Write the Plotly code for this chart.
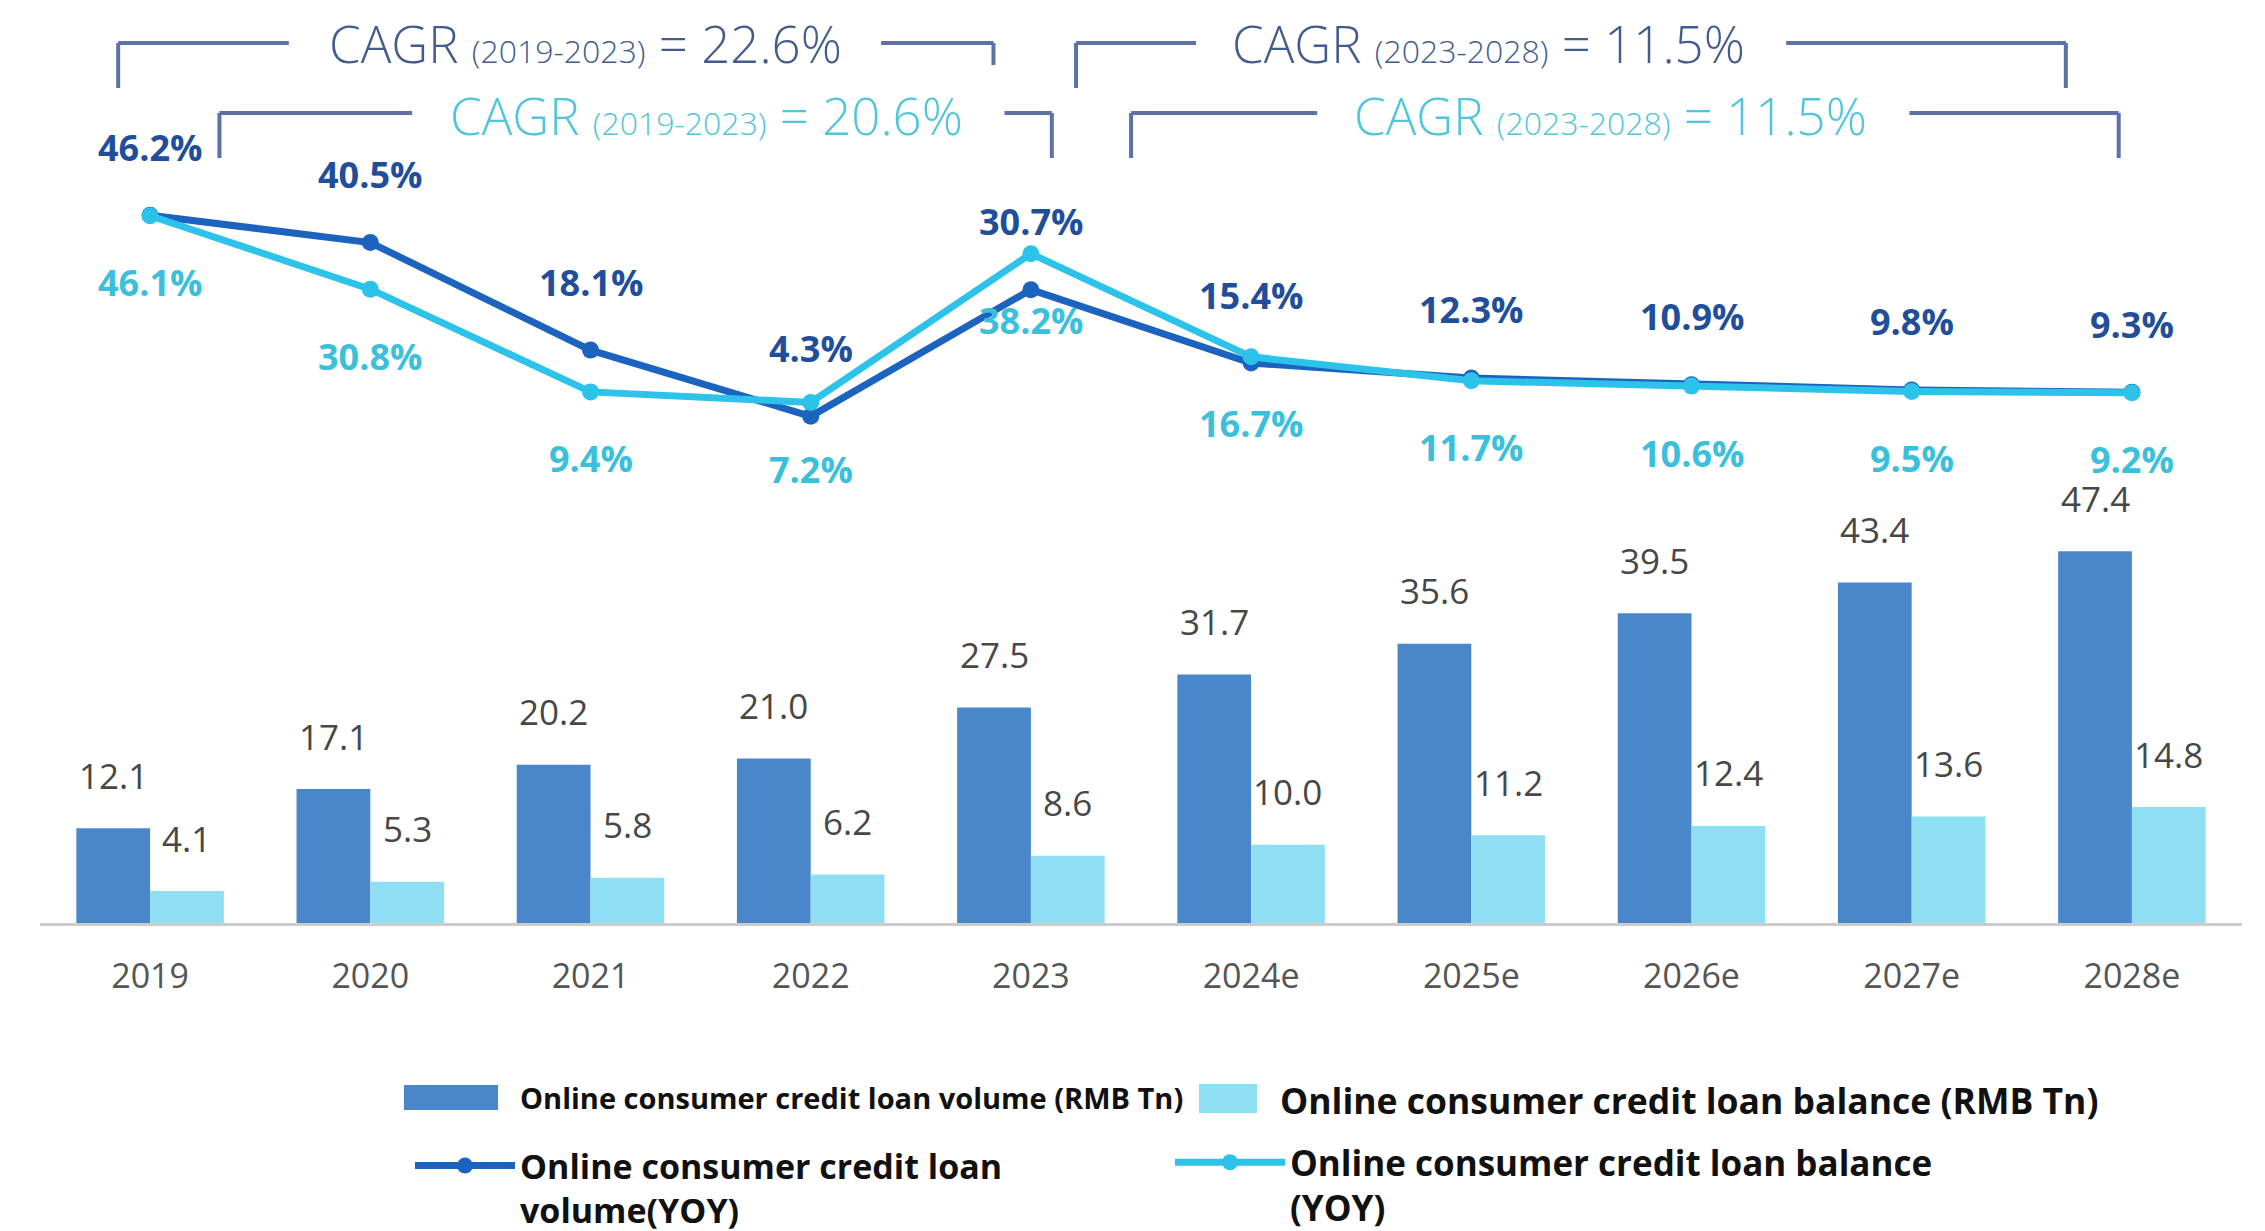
import plotly.graph_objects as go

# ---- data -------------------------------------------------------------
years = ["2019", "2020", "2021", "2022", "2023",
         "2024e", "2025e", "2026e", "2027e", "2028e"]
volume = [12.1, 17.1, 20.2, 21.0, 27.5, 31.7, 35.6, 39.5, 43.4, 47.4]
balance = [4.1, 5.3, 5.8, 6.2, 8.6, 10.0, 11.2, 12.4, 13.6, 14.8]
volume_yoy = [46.2, 40.5, 18.1, 4.3, 30.7, 15.4, 12.3, 10.9, 9.8, 9.3]
balance_yoy = [46.1, 30.8, 9.4, 7.2, 38.2, 16.7, 11.7, 10.6, 9.5, 9.2]

cagr_periods = ["(2019-2023)", "(2019-2023)", "(2023-2028)", "(2023-2028)"]
cagr_values = [22.6, 20.6, 11.5, 11.5]

names = [
    "Online consumer credit loan volume (RMB Tn)",
    "Online consumer credit loan balance (RMB Tn)",
    "Online consumer credit loan<br>volume(YOY)",
    "Online consumer credit loan balance<br>(YOY)",
]

# ---- styling ----------------------------------------------------------
W, H = 2265, 1231
DARK_BAR = "#4a87ca"
LIGHT_BAR = "#8fdff4"
DARK_LINE = "#1b63bf"
LIGHT_LINE = "#2cc2ea"
DARK_LABEL = "#1f4e9a"
LIGHT_LABEL = "#3bc0dc"
CAGR_DARK = "#445c8d"
CAGR_LIGHT = "#4fc6da"
BRACKET = "#5e71a7"
TEXT_GRAY = "#474747"
FONT = "Open Sans"

X_DOMAIN = [40 / W, 2242 / W]
BAR_HALF = 36.8          # offset of each bar's centre from the category centre (px)
idx = list(range(len(years)))   # category positions on the x axis


def py(px):
    """Pixel offset from the top of the figure -> paper y."""
    return 1 - px / H


fig = go.Figure()

fig.add_bar(x=years, y=volume, marker=dict(color=DARK_BAR, line=dict(width=0)),
            name=names[0], legend="legend")
fig.add_bar(x=years, y=balance, marker=dict(color=LIGHT_BAR, line=dict(width=0)),
            name=names[1], legend="legend2")

fig.add_scatter(x=years, y=volume_yoy, yaxis="y2", mode="lines+markers",
                line=dict(color=DARK_LINE, width=7),
                marker=dict(size=17, color=DARK_LINE),
                name=names[2], legend="legend3")
fig.add_scatter(x=years, y=balance_yoy, yaxis="y2", mode="lines+markers",
                line=dict(color=LIGHT_LINE, width=7),
                marker=dict(size=17, color=LIGHT_LINE),
                name=names[3], legend="legend4")

annotations = []

# value labels above the bars
for i, v in zip(idx, volume):
    annotations.append(dict(x=i, y=v, xref="x", yref="y", text=f"{v:.1f}",
                            showarrow=False, xshift=-BAR_HALF, yshift=53,
                            font=dict(family=FONT, size=35, color=TEXT_GRAY)))
for i, v in zip(idx, balance):
    annotations.append(dict(x=i, y=v, xref="x", yref="y", text=f"{v:.1f}",
                            showarrow=False, xshift=BAR_HALF, yshift=53,
                            font=dict(family=FONT, size=35, color=TEXT_GRAY)))

# growth-rate labels: volume above its point, balance below its point
for i, v in zip(idx, volume_yoy):
    annotations.append(dict(x=i, y=v, xref="x", yref="y2", text=f"<b>{v:.1f}%</b>",
                            showarrow=False, yshift=68,
                            font=dict(family=FONT, size=36, color=DARK_LABEL)))
for i, v in zip(idx, balance_yoy):
    annotations.append(dict(x=i, y=v, xref="x", yref="y2", text=f"<b>{v:.1f}%</b>",
                            showarrow=False, yshift=-67,
                            font=dict(family=FONT, size=36, color=LIGHT_LABEL)))

# CAGR captions (x in category units, y in paper units)
cagr_pos = [(1.975, py(43)), (2.526, py(115)), (6.08, py(43)), (6.634, py(115))]
cagr_colors = [CAGR_DARK, CAGR_LIGHT, CAGR_DARK, CAGR_LIGHT]
for (cx, cy), per, val, col in zip(cagr_pos, cagr_periods, cagr_values, cagr_colors):
    annotations.append(dict(
        x=cx, y=cy, xref="x", yref="paper", xanchor="center", yanchor="middle",
        showarrow=False,
        text=f"CAGR <span style='font-size:32px'>{per}</span> = {val:.1f}%",
        font=dict(family=FONT, size=51, color=col, weight=300)))

# brackets framing the CAGR captions
brackets = [
    # x_left, gap_left, gap_right, x_right, y_line, y_left_end, y_right_end
    (-0.145, 0.63, 3.32, 3.83, 43, 88, 65),
    (0.315, 1.19, 3.88, 4.095, 113, 158, 158),
    (4.205, 4.75, 7.43, 8.70, 43, 88, 88),
    (4.455, 5.30, 7.99, 8.94, 113, 158, 158),
]
shapes = []
line_style = dict(color=BRACKET, width=4)
for xl, gl, gr, xr, yl, yle, yre in brackets:
    shapes += [
        dict(type="line", xref="x", yref="paper", x0=xl, x1=xl, y0=py(yl), y1=py(yle), line=line_style),
        dict(type="line", xref="x", yref="paper", x0=xl, x1=gl, y0=py(yl), y1=py(yl), line=line_style),
        dict(type="line", xref="x", yref="paper", x0=gr, x1=xr, y0=py(yl), y1=py(yl), line=line_style),
        dict(type="line", xref="x", yref="paper", x0=xr, x1=xr, y0=py(yl), y1=py(yre), line=line_style),
    ]

# wide legend swatches behind the bar legend symbols
for (x0, x1, y0, y1), col in [((404, 498, 1085, 1110), DARK_BAR),
                              ((1199, 1257, 1084, 1113), LIGHT_BAR)]:
    shapes.append(dict(type="rect", xref="paper", yref="paper",
                       x0=x0 / W, x1=x1 / W, y0=py(y1), y1=py(y0),
                       fillcolor=col, line=dict(width=0), layer="above"))

# bar axis: baseline 923 px from the top, 7.85 px per trillion
bar_domain = [0.25, 1.0]
plot_h = (bar_domain[1] - bar_domain[0]) * H
bar_range = [0, plot_h / 7.85]
# growth axis: 0% sits 437 px from the top, 4.8 px per percentage point
zero_px, pp = 437.0, 4.80
yoy_range = [-(plot_h - zero_px) / pp, zero_px / pp]


def legend_box(x, y, size, itemwidth, valign="middle"):
    return dict(x=x, y=y, xanchor="left", yanchor="middle", orientation="v",
                bgcolor="rgba(0,0,0,0)", borderwidth=0, itemwidth=itemwidth,
                valign=valign,
                font=dict(family=FONT, size=size, color="#111111", weight="bold"),
                itemclick=False, itemdoubleclick=False)


fig.update_layout(
    width=W, height=H,
    margin=dict(l=0, r=0, t=0, b=0, autoexpand=False),
    paper_bgcolor="white", plot_bgcolor="white",
    barmode="group", bargap=0.33, bargroupgap=0,
    xaxis=dict(domain=X_DOMAIN, type="category", range=[-0.5, len(years) - 0.5],
               showgrid=False, zeroline=False, automargin=False,
               showline=True, linecolor="#cccccc", linewidth=3, ticks="",
               ticklabelstandoff=21, fixedrange=True,
               tickfont=dict(family=FONT, size=34, color="#555555")),
    yaxis=dict(domain=bar_domain, range=bar_range, visible=False, fixedrange=True),
    yaxis2=dict(overlaying="y", range=yoy_range, visible=False, fixedrange=True),
    annotations=annotations,
    shapes=shapes,
    showlegend=True,
    legend=legend_box(416 / W, py(1098), 29, 94),
    legend2=legend_box(1212 / W, py(1101), 35.5, 58),
    legend3=legend_box(410 / W, py(1188), 34, 100, "top"),
    legend4=legend_box(1170 / W, py(1185), 35, 110, "top"),
)

fig.write_html("out.html")
